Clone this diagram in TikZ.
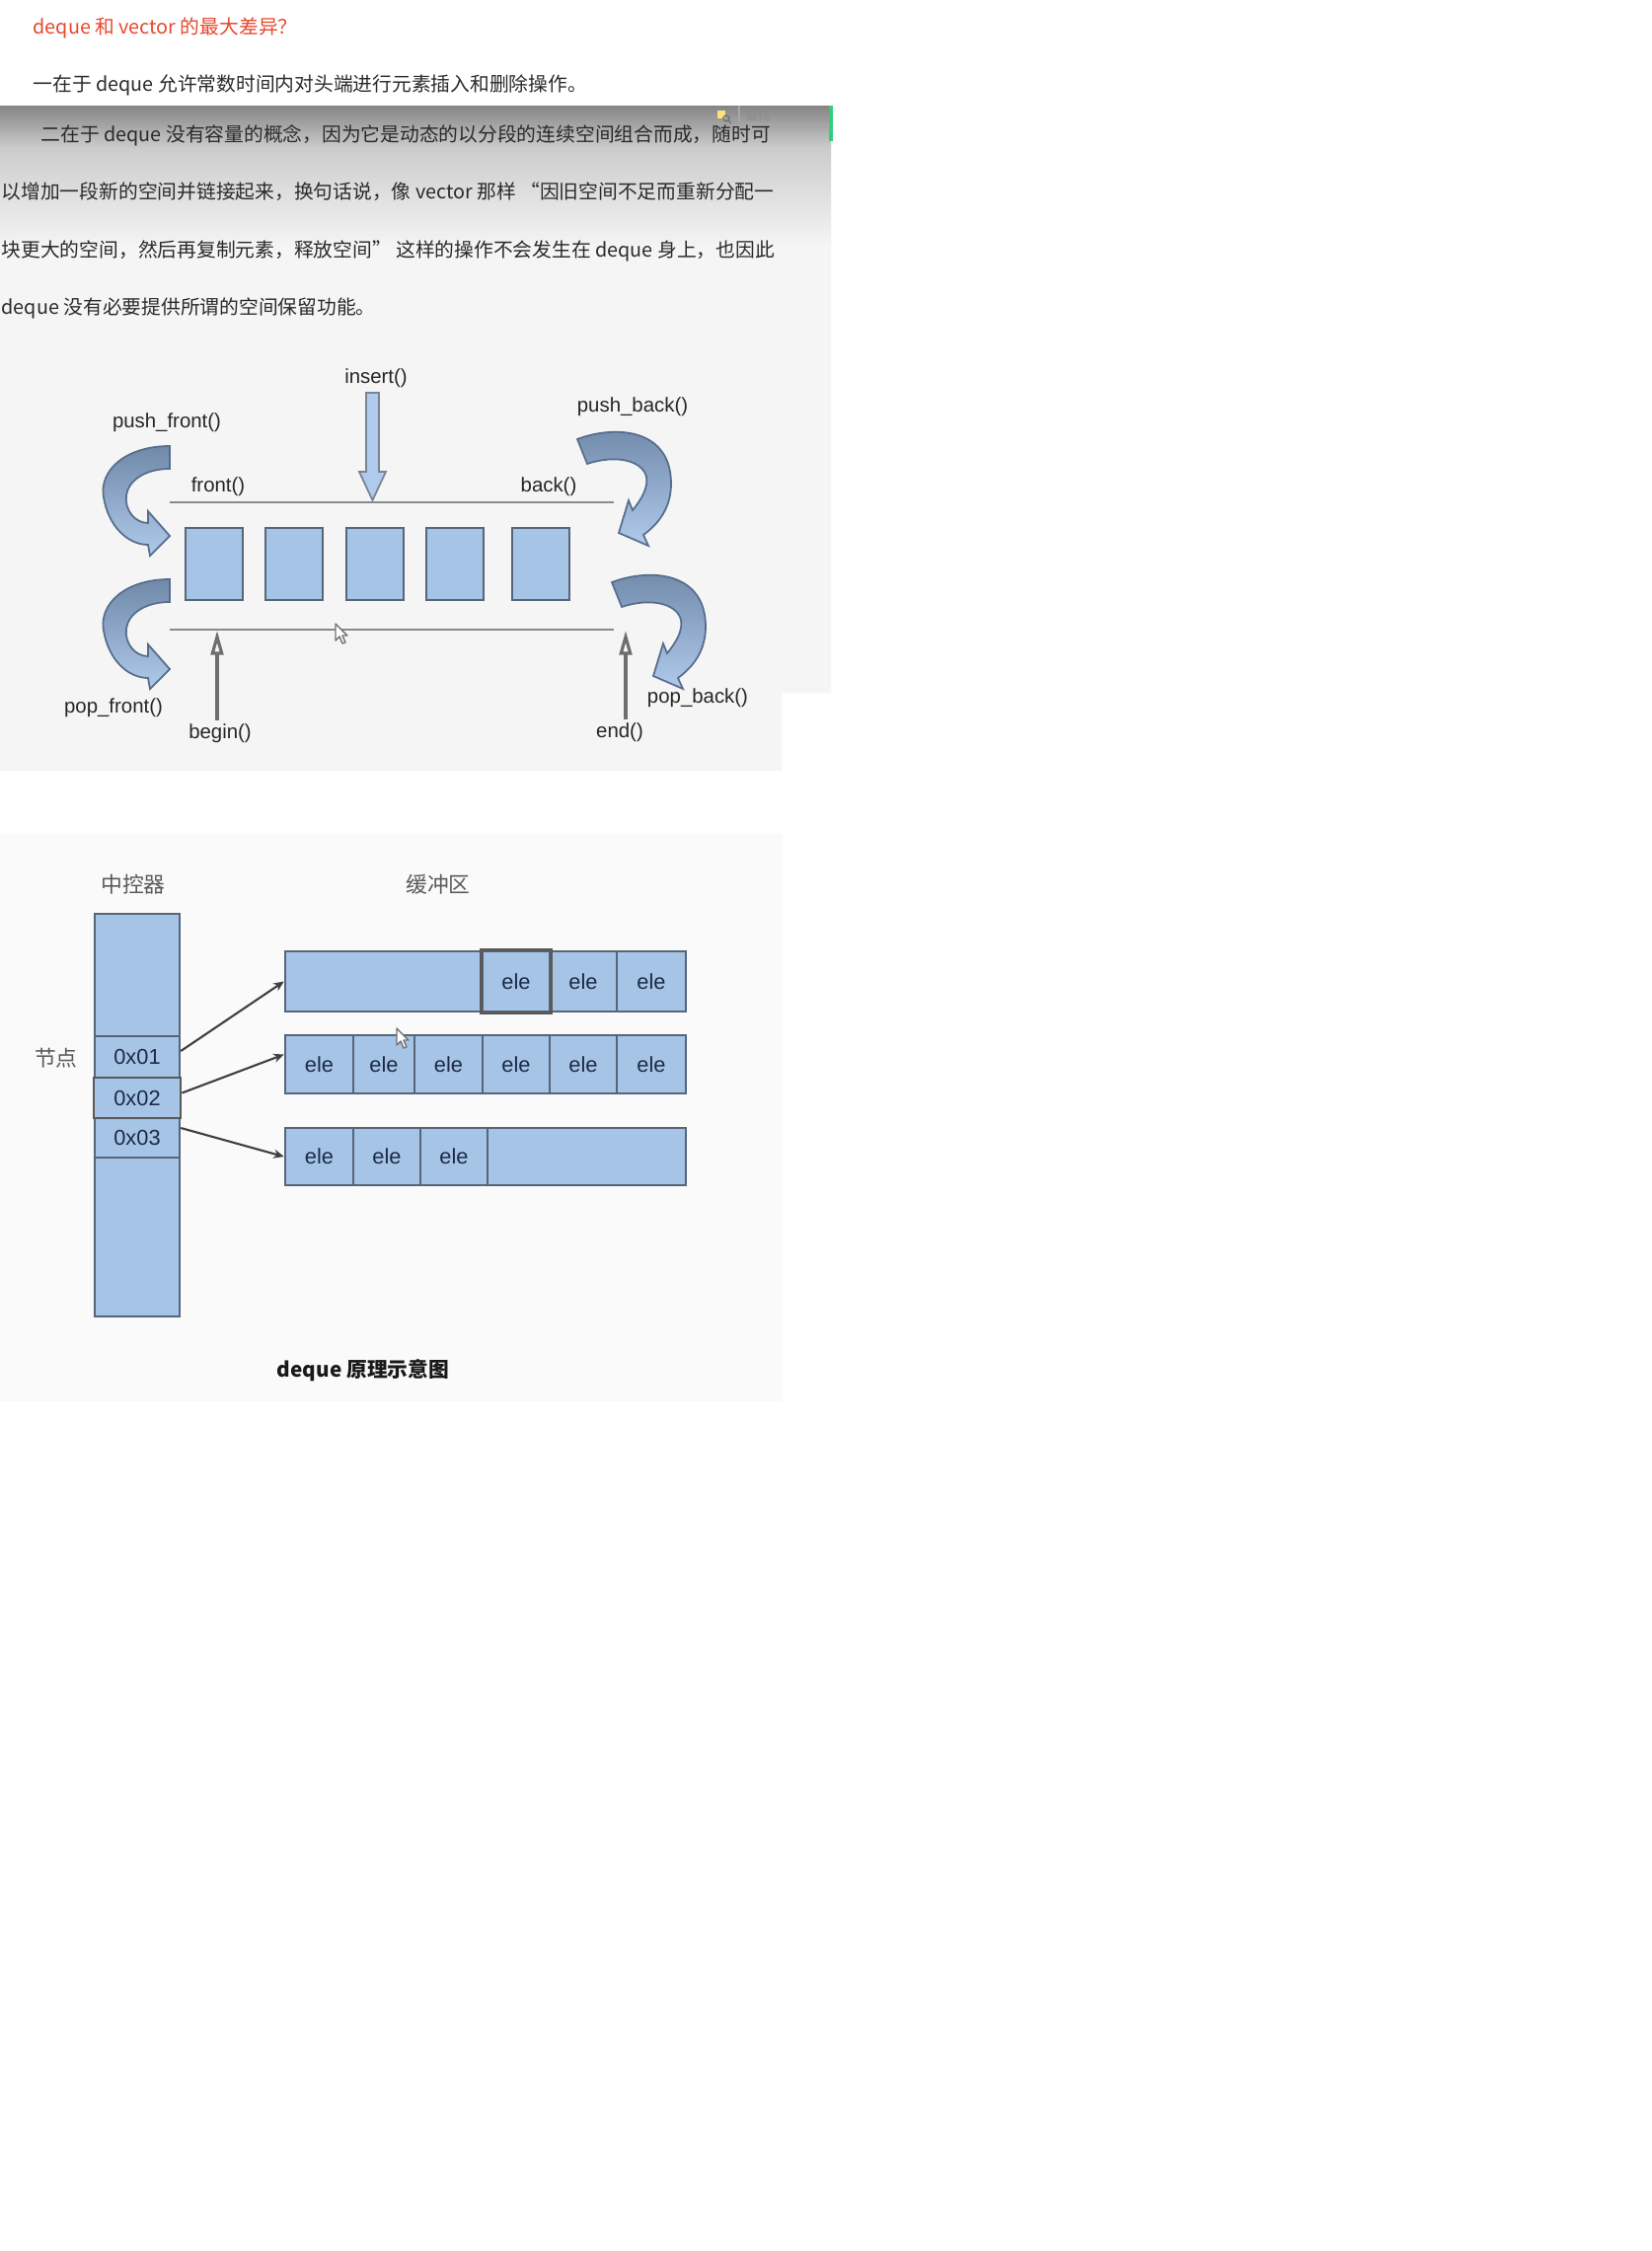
\documentclass[tikz,border=0pt]{standalone}
\usepackage{fontspec}
\setmainfont{Liberation Sans}
\newfontfamily\cjk{Noto Sans CJK SC}
\usepackage{xcolor}
\usepackage{tikz}
\usetikzlibrary{arrows.meta,positioning,shapes}
\definecolor{boxblue}{HTML}{A6C4E6}
\definecolor{boxline}{HTML}{56657A}
\definecolor{elecol}{HTML}{1B2B46}
\definecolor{curldark}{HTML}{7089A9}
\definecolor{curllight}{HTML}{B0CAEC}
\definecolor{curledge}{HTML}{566E8C}
\definecolor{textgray}{HTML}{2A2A2A}
\definecolor{titlered}{HTML}{E8472F}
\definecolor{railgray}{HTML}{8A8A8A}
\definecolor{barsgreen}{HTML}{2FD07A}

\begin{document}
\begin{tikzpicture}[x=0.01cm, y=-0.01cm,
                    para/.style={anchor=west, inner sep=0pt, text=textgray, font=\cjk\fontsize{5.62pt}{7pt}\selectfont},
                    fnlabel/.style={inner sep=0pt, text=black!85, font=\fontsize{5.8pt}{7pt}\selectfont},
                    slot/.style={draw=boxline, fill=boxblue, line width=0.6pt, minimum width=0.58cm, minimum height=0.73cm, inner sep=0pt},
                    rail/.style={railgray, line width=0.8pt},
                    iter/.style={railgray!80!black, line width=0.9pt, -{Triangle[open, length=7pt, width=3.6pt]}},
                    curl/.style={draw=curledge, line width=0.5pt, top color=curldark, bottom color=curllight},
                    bufcell/.style={draw=boxline, fill=boxblue, line width=0.7pt, inner sep=0pt, text=elecol, font=\fontsize{6.2pt}{7pt}\selectfont},
                    ptr/.style={black!75, line width=0.6pt, -{Stealth[length=3pt, width=2.6pt]}},
                    cnlabel/.style={inner sep=0pt, text=black!65, font=\cjk\fontsize{6.2pt}{7pt}\selectfont},
                    cursor/.style={fill=white, draw=black!55, line width=0.4pt, line join=round},
                   ]

\useasboundingbox (0,0) rectangle (1674,2281);
\fill[white] (0,0) rectangle (1674,2281);

% screenshot band
\fill[black!4] (0,107) -- (842,107) -- (842,702) -- (792,702) -- (792,781) -- (0,781) -- cycle;
\shade[top color=black!48, bottom color=black!20] (0,107) rectangle (842,150);
\shade[top color=black!20, bottom color=black!4] (0,150) rectangle (842,250);
\draw[barsgreen, line width=1pt] (842,107) -- (842,143);
\draw[black!35, line width=0.3pt] (749,107) -- (749,125) (749,126) -- (841,126);
\fill[yellow!60!orange!50] (727,112) rectangle (735,120);
\draw[black!55, line width=0.4pt] (736,120) circle (3) (738,122) -- (741,125);
\node[inner sep=0pt, text=black!45, font=\cjk\fontsize{3.6pt}{4pt}\selectfont] (findlbl) at (768,117) {查找};

% text
\node[para, text=titlered] (title) at (33,28) {deque 和 vector 的最大差异？};
\node[para] (lineone) at (33,86) {一在于 deque 允许常数时间内对头端进行元素插入和删除操作。};
\node[para] (linetwo) at (41,137) {二在于 deque 没有容量的概念，因为它是动态的以分段的连续空间组合而成，随时可};
\node[para] (linethree) at (1,194) {以增加一段新的空间并链接起来，换句话说，像 vector 那样 “因旧空间不足而重新分配一};
\node[para] (linefour) at (1,254) {块更大的空间，然后再复制元素，释放空间” 这样的操作不会发生在 deque 身上，也因此};
\node[para] (linefive) at (1,312) {deque 没有必要提供所谓的空间保留功能。};

% deque interface
\node[fnlabel] (insertlbl) at (381,383) {insert()};
\node[fnlabel] (pushfrontlbl) at (169,428) {push\_front()};
\node[fnlabel] (frontlbl) at (221,493) {front()};
\node[fnlabel] (backlbl) at (556,493) {back()};
\node[fnlabel] (pushbacklbl) at (641,412) {push\_back()};
\node[fnlabel] (popfrontlbl) at (115,717) {pop\_front()};
\node[fnlabel] (beginlbl) at (223,743) {begin()};
\node[fnlabel] (endlbl) at (628,742) {end()};
\node[fnlabel] (popbacklbl) at (707,707) {pop\_back()};

\coordinate (railTL) at (172,509);
\coordinate (railTR) at (622,509);
\coordinate (railBL) at (172,638);
\coordinate (railBR) at (622,638);
\draw[rail] (railTL) -- (railTR);
\draw[rail] (railBL) -- (railBR);

\foreach \x [count=\i] in {217,298,380,461,548}
  \node[slot] (slot\i) at (\x,571.5) {};

\draw[draw=boxline!80, fill=curllight, line width=0.5pt] (371,398) -- (384,398) -- (384,478) -- (391,478) -- (377.5,507) -- (364,478) -- (371,478) -- cycle;

\coordinate (beginfoot) at (220,730);
\coordinate (beginhit) at (220,639);
\coordinate (endfoot) at (634,729);
\coordinate (endhit) at (634,639);
\draw[iter] (beginfoot) -- (beginhit);
\draw[iter] (endfoot) -- (endhit);

% curled arrows, front side
\foreach \dy in {0,135}
  \shade[curl, shift={(172,452+\dy)}] (0,0) .. controls (-45,0) and (-72,25) .. (-67,52)
        .. controls (-62,82) and (-42,100) .. (-22,100) -- (-20,111) -- (0,91) -- (-22,66) -- (-22,78)
        .. controls (-35,78) and (-46,65) .. (-44,50) .. controls (-42,35) and (-25,23) .. (0,23) -- cycle;

% curled arrows, back side
\foreach \dx/\dy in {0/0,35/145}
  \shade[curl, shift={(585+\dx,445+\dy)}] (0,0) .. controls (40,-15) and (95,-10) .. (95,45)
        .. controls (95,70) and (82,86) .. (67,97) -- (72,108) -- (42,95) -- (52,62) -- (56,72)
        .. controls (66,60) and (72,48) .. (70,38) .. controls (66,22) and (40,15) .. (10,25) -- cycle;

\draw[cursor, shift={(340,632)}] (0,0) -- (0,17) -- (4,13) -- (7,20) -- (10,19) -- (7,12) -- (12,12) -- cycle;

% map and buffers
\fill[black!2] (0,845) rectangle (793,1420);
\node[cnlabel] (ctrllbl) at (135,896) {中控器};
\node[cnlabel] (buflbl) at (444,896) {缓冲区};
\node[cnlabel] (nodelbl) at (57,1072) {节点};

\node[bufcell, minimum width=0.86cm, minimum height=4.08cm] (ctrl) at (139,1130) {};
\node[bufcell, minimum width=0.86cm, minimum height=0.42cm] (n1) at (139,1071) {0x01};
\node[bufcell, minimum width=0.86cm, minimum height=0.40cm] (n3) at (139,1153) {0x03};
\node[bufcell, draw=black!65, line width=0.8pt, minimum width=0.88cm, minimum height=0.41cm] (n2) at (139,1112.5) {0x02};

\foreach \l/\r/\t [count=\i] in {289/489/{},489/557/ele,557/625/ele,625/695/ele} {
  \pgfmathsetmacro\w{(\r-\l)*0.01}
  \pgfmathsetmacro\c{(\l+\r)/2}
  \node[bufcell, minimum width=\w cm, minimum height=0.61cm] (rowa\i) at (\c,994.5) {\t};
}
\foreach \l/\r [count=\i] in {289/358,358/420,420/489,489/557,557/625,625/695} {
  \pgfmathsetmacro\w{(\r-\l)*0.01}
  \pgfmathsetmacro\c{(\l+\r)/2}
  \node[bufcell, minimum width=\w cm, minimum height=0.59cm] (rowb\i) at (\c,1078.5) {ele};
}
\foreach \l/\r/\t [count=\i] in {289/358/ele,358/426/ele,426/494/ele,494/695/{}} {
  \pgfmathsetmacro\w{(\r-\l)*0.01}
  \pgfmathsetmacro\c{(\l+\r)/2}
  \node[bufcell, minimum width=\w cm, minimum height=0.58cm] (rowc\i) at (\c,1172) {\t};
}
\draw[black!65, line width=0.8pt] (rowa2.south west) rectangle (rowa2.north east);

\draw[ptr] ([yshift=0.06cm]n1.east) -- (rowa1.west);
\draw[ptr] ([yshift=0.05cm]n2.east) -- ([yshift=0.1cm]rowb1.west);
\draw[ptr] ([yshift=0.1cm]n3.east) -- (rowc1.west);

\draw[cursor, shift={(402,1042)}] (0,0) -- (0,17) -- (4,13) -- (7,20) -- (10,19) -- (7,12) -- (12,12) -- cycle;

\node[inner sep=0pt, text=black!90, font=\cjk\bfseries\fontsize{5.9pt}{7pt}\selectfont] (caption) at (368,1389) {deque 原理示意图};

\end{tikzpicture}
\end{document}
